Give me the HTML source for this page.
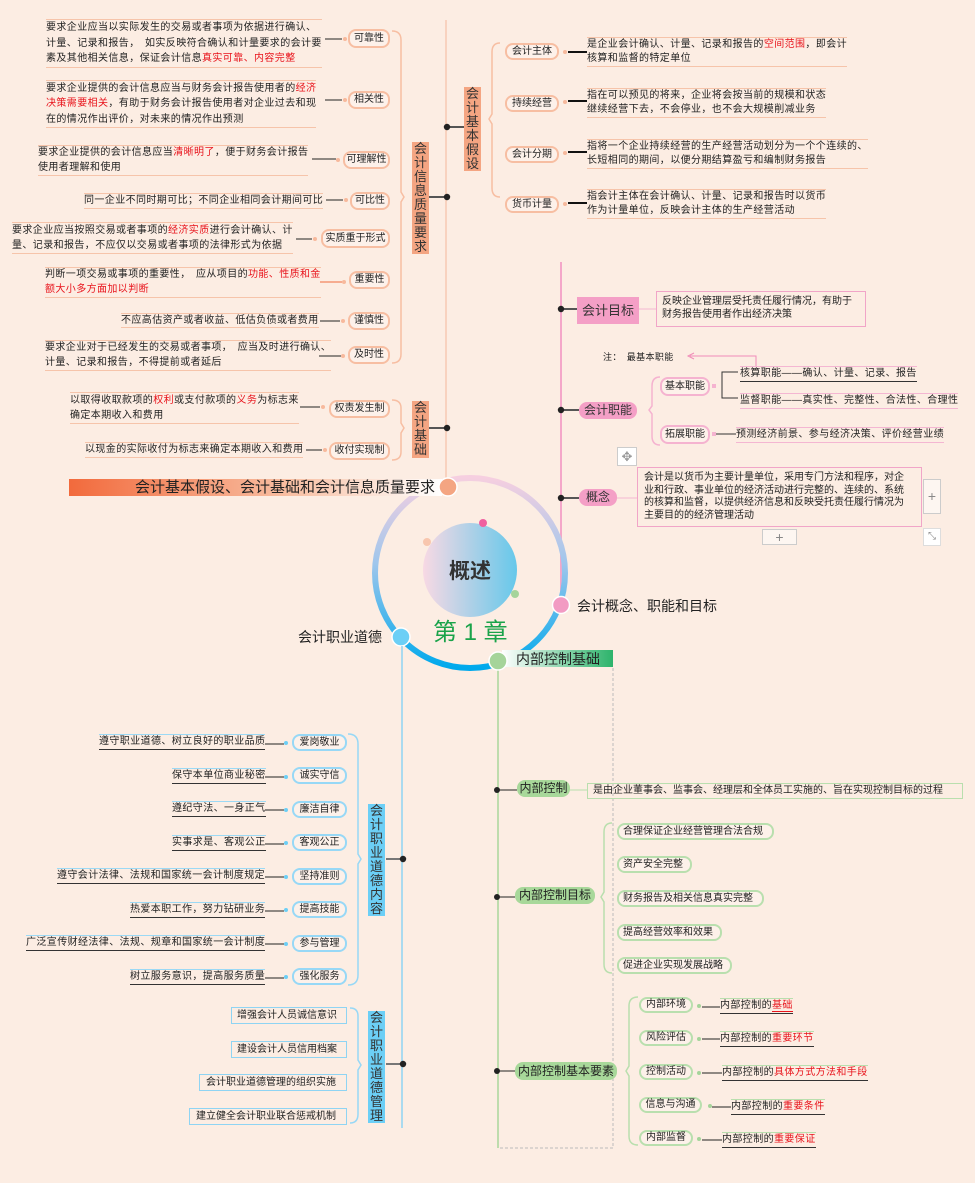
<!DOCTYPE html>
<html><head><meta charset="utf-8">
<style>
*{margin:0;padding:0;box-sizing:border-box}
body{width:975px;height:1183px;background:#fcede3;position:relative;overflow:hidden;font-family:"Liberation Sans","Noto Sans CJK SC",sans-serif;color:#222}
.t{position:absolute;font-size:10px;line-height:15px;white-space:nowrap;letter-spacing:0.4px}
.r{color:#e8131b}
.ob{border-top:1px solid #f6c4aa;border-bottom:1px solid #f6c4aa}
.pb{border-top:1px solid #f4b6d2;border-bottom:1px solid #f4b6d2}
.bb{border-top:1px solid #9bd9f5;border-bottom:1px solid #333}
.p{position:absolute;font-size:10px;text-align:center;white-space:nowrap;border-radius:8px;background:#fdf1ea}
.po{border:2px solid #f7bea2}
.pp{border:2px solid #f5b3d0}
.pbl{border:2px solid #97d8f6}
.pg{border:2px solid #b9dfae}
.v{position:absolute;width:17px;font-size:13px;line-height:14px;text-align:center;color:#333}
.box{position:absolute;font-size:10px;white-space:nowrap}
</style></head><body>
<svg width="975" height="1183" style="position:absolute;left:0;top:0">
<defs>
<linearGradient id="ring" x1="0" y1="0" x2="0" y2="1"><stop offset="0" stop-color="#f6cfe0"/><stop offset="0.45" stop-color="#9fc6ec"/><stop offset="1" stop-color="#00a9ec"/></linearGradient>
<linearGradient id="inner" x1="0" y1="0" x2="1" y2="0"><stop offset="0" stop-color="#f8d9e4"/><stop offset="1" stop-color="#66c8ea"/></linearGradient>
<linearGradient id="ob" x1="0" y1="0" x2="1" y2="0"><stop offset="0" stop-color="#f26a3c"/><stop offset="0.6" stop-color="#f8c0a4"/><stop offset="1" stop-color="#fff"/></linearGradient>
<linearGradient id="gb" x1="0" y1="0" x2="1" y2="0"><stop offset="0" stop-color="#fff"/><stop offset="1" stop-color="#2db36b"/></linearGradient>
</defs>
<g fill="none" stroke-width="1">
<!-- orange trunk -->
<line x1="446" y1="20" x2="446" y2="478" stroke="#f5b89b"/>
<g stroke="#555" stroke-width="2"><line x1="447" y1="127" x2="464" y2="127"/><line x1="428" y1="197" x2="447" y2="197"/><line x1="428" y1="428" x2="447" y2="428"/></g>
<g fill="#222" stroke="none"><circle cx="447" cy="127" r="3.2"/><circle cx="447" cy="197" r="3.2"/><circle cx="447" cy="428" r="3.2"/></g>
<path d="M392,31 Q401,31 401,40 V192 L404,197 L401,202 V354 Q401,363 392,363" stroke="#f7bea2" stroke-width="1.5"/>
<path d="M392,400 Q401,400 401,408 V423 L404,428 L401,433 V452 Q401,460 392,460" stroke="#f7bea2" stroke-width="1.5"/>
<path d="M500,43 Q492,43 492,52 V114 L489,119 L492,124 V188 Q492,197 500,197" stroke="#f7bea2" stroke-width="1.5"/>
<g stroke="#222"><line x1="325" y1="39" x2="342" y2="39"/><line x1="325" y1="100" x2="342" y2="100"/><line x1="312" y1="159" x2="336" y2="159"/><line x1="326" y1="200" x2="343" y2="200"/><line x1="296" y1="239" x2="312" y2="239"/><line x1="320" y1="321" x2="340" y2="321"/><line x1="319" y1="356" x2="341" y2="356"/><line x1="300" y1="407" x2="320" y2="407"/><line x1="306" y1="450" x2="322" y2="450"/></g>
<line x1="320" y1="282" x2="342" y2="282" stroke="#f06a3c"/>
<g fill="#f7b99c" stroke="none"><circle cx="345" cy="39" r="2"/><circle cx="345" cy="100" r="2"/><circle cx="338" cy="160" r="2"/><circle cx="346" cy="200" r="2"/><circle cx="315" cy="239" r="2"/><circle cx="344" cy="282" r="2"/><circle cx="343" cy="321" r="2"/><circle cx="343" cy="356" r="2"/><circle cx="323" cy="407" r="2"/><circle cx="325" cy="450" r="2"/>
<circle cx="565" cy="52" r="2"/><circle cx="565" cy="102" r="2"/><circle cx="565" cy="153" r="2"/><circle cx="565" cy="204" r="2"/></g>
<g stroke="#111" stroke-width="2"><line x1="568" y1="52" x2="587" y2="52"/><line x1="568" y1="101" x2="587" y2="101"/><line x1="568" y1="152" x2="587" y2="152"/><line x1="568" y1="203" x2="587" y2="203"/></g>
<!-- pink trunk -->
<line x1="561" y1="262" x2="561" y2="598" stroke="#f4a7c9" stroke-width="2"/>
<g stroke="#555" stroke-width="2"><line x1="561" y1="309" x2="577" y2="309"/><line x1="561" y1="410" x2="579" y2="410"/><line x1="561" y1="498" x2="579" y2="498"/></g>
<g fill="#222" stroke="none"><circle cx="561" cy="309" r="3.2"/><circle cx="561" cy="410" r="3.2"/><circle cx="561" cy="498" r="3.2"/></g>
<line x1="639" y1="309" x2="656" y2="309" stroke="#f4b6d2"/>
<line x1="617" y1="498" x2="637" y2="498" stroke="#f4b6d2"/>
<path d="M660,377 Q652,377 652,386 V406 L649,410 L652,414 V436 Q652,445 660,445" stroke="#f5b3d0" stroke-width="1.5"/>
<rect x="712" y="384" width="4" height="4" fill="#f5b3d0" stroke="none"/>
<path d="M738,372 H722 V398 H738" stroke="#333"/>
<rect x="712" y="432" width="4" height="4" fill="#f5b3d0" stroke="none"/>
<line x1="716" y1="434" x2="736" y2="434" stroke="#333"/>
<path d="M756,366 V356 H690" stroke="#f08cb8"/>
<path d="M694,353 L688,356 L694,359" stroke="#f08cb8"/>
<!-- ring -->
<circle cx="470" cy="573" r="95" stroke="url(#ring)" stroke-width="6"/>
<circle cx="470" cy="570" r="47" fill="url(#inner)" stroke="none"/>
<circle cx="483" cy="523" r="4" fill="#f0609f" stroke="none"/>
<circle cx="427" cy="542" r="4" fill="#f8c6ae" stroke="none"/>
<circle cx="515" cy="594" r="4" fill="#a5d49a" stroke="none"/>
<rect x="69" y="479" width="373" height="17" fill="url(#ob)" stroke="none"/>
<circle cx="448" cy="487" r="9" fill="#f4a582" stroke="#fff" stroke-width="1.5"/>
<circle cx="561" cy="605" r="8.5" fill="#f29bc3" stroke="#fff" stroke-width="1.5"/>
<circle cx="401" cy="637" r="9" fill="#6ccff6" stroke="#fff" stroke-width="1.5"/>
<rect x="502" y="650" width="111" height="17" fill="url(#gb)" stroke="none"/>
<!-- blue trunk -->
<line x1="402" y1="646" x2="402" y2="1128" stroke="#8fd4f3" stroke-width="1.5"/>
<g stroke="#777" stroke-width="2"><line x1="386" y1="859" x2="403" y2="859"/><line x1="386" y1="1064" x2="403" y2="1064"/></g>
<g fill="#222" stroke="none"><circle cx="403" cy="859" r="3.2"/><circle cx="403" cy="1064" r="3.2"/></g>
<path d="M348,734 Q358,734 358,744 V854 L361,859 L358,864 V975 Q358,985 348,985" stroke="#97d8f6" stroke-width="1.5"/>
<path d="M350,1008 Q358,1008 358,1016 V1060 L361,1065 L358,1070 V1114 Q358,1123 350,1123" stroke="#97d8f6" stroke-width="1.5"/>
<g stroke="#222"><line x1="265" y1="744" x2="284" y2="744"/><line x1="265" y1="777" x2="284" y2="777"/><line x1="265" y1="810" x2="284" y2="810"/><line x1="265" y1="844" x2="284" y2="844"/><line x1="265" y1="877" x2="284" y2="877"/><line x1="265" y1="911" x2="284" y2="911"/><line x1="265" y1="944" x2="284" y2="944"/><line x1="265" y1="978" x2="284" y2="978"/></g>
<g fill="#6ccff6" stroke="none"><circle cx="286" cy="743" r="2"/><circle cx="286" cy="777" r="2"/><circle cx="286" cy="810" r="2"/><circle cx="286" cy="843" r="2"/><circle cx="286" cy="877" r="2"/><circle cx="286" cy="910" r="2"/><circle cx="286" cy="944" r="2"/><circle cx="286" cy="977" r="2"/></g>
<!-- green trunk -->
<line x1="498" y1="668" x2="498" y2="1148" stroke="#a9d69b" stroke-width="1.5"/>
<path d="M613,668 V1148 H498" stroke="#bbb" stroke-dasharray="3,2"/>
<circle cx="498" cy="661" r="9" fill="#a5d49a" stroke="#fff" stroke-width="1.5"/>
<g stroke="#222"><line x1="497" y1="790" x2="517" y2="790"/><line x1="497" y1="897" x2="515" y2="897"/><line x1="497" y1="1071" x2="515" y2="1071"/></g>
<g fill="#222" stroke="none"><circle cx="497" cy="790" r="3"/><circle cx="497" cy="897" r="3"/><circle cx="497" cy="1071" r="3"/></g>
<line x1="570" y1="790" x2="587" y2="790" stroke="#b9dfae"/>
<path d="M612,823 Q604,823 604,832 V892 L601,897 L604,902 V964 Q604,973 612,973" stroke="#b9dfae" stroke-width="1.5"/>
<path d="M638,997 Q629,997 629,1006 V1066 L626,1071 L629,1076 V1136 Q629,1145 638,1145" stroke="#b9dfae" stroke-width="1.5"/>
<g stroke="#222"><line x1="702" y1="1007" x2="720" y2="1007"/><line x1="702" y1="1039" x2="720" y2="1039"/><line x1="702" y1="1073" x2="722" y2="1073"/><line x1="712" y1="1107" x2="731" y2="1107"/><line x1="702" y1="1140" x2="722" y2="1140"/></g>
<g fill="#a5d49a" stroke="none"><circle cx="699" cy="1006" r="2"/><circle cx="699" cy="1039" r="2"/><circle cx="699" cy="1073" r="2"/><circle cx="710" cy="1106" r="2"/><circle cx="699" cy="1139" r="2"/></g>
</g>
</svg>

<!-- top-left quality requirements -->
<div class="t ob" style="left:46px;top:19px;line-height:15.5px">要求企业应当以实际发生的交易或者事项为依据进行确认、<br>计量、记录和报告，　如实反映符合确认和计量要求的会计要<br>素及其他相关信息，保证会计信息<span class="r">真实可靠、内容完整</span></div>
<div class="p po" style="left:348px;top:29px;width:42px;height:19px;line-height:15px">可靠性</div>
<div class="t ob" style="left:46px;top:80px;line-height:15.3px">要求企业提供的会计信息应当与财务会计报告使用者的<span class="r">经济</span><br><span class="r">决策需要相关</span>，有助于财务会计报告使用者对企业过去和现<br>在的情况作出评价，对未来的情况作出预测</div>
<div class="p po" style="left:348px;top:91px;width:42px;height:18px;line-height:14px">相关性</div>
<div class="t ob" style="left:38px;top:145px;line-height:14.5px">要求企业提供的会计信息应当<span class="r">清晰明了</span>，便于财务会计报告<br>使用者理解和使用</div>
<div class="p po" style="left:343px;top:151px;width:47px;height:18px;line-height:14px">可理解性</div>
<div class="t ob" style="left:84px;top:193px;line-height:14px">同一企业不同时期可比；不同企业相同会计期间可比</div>
<div class="p po" style="left:350px;top:192px;width:40px;height:18px;line-height:14px">可比性</div>
<div class="t ob" style="left:12px;top:222px;line-height:15px">要求企业应当按照交易或者事项的<span class="r">经济实质</span>进行会计确认、计<br>量、记录和报告，不应仅以交易或者事项的法律形式为依据</div>
<div class="p po" style="left:321px;top:229px;width:69px;height:19px;line-height:15px">实质重于形式</div>
<div class="t ob" style="left:45px;top:267px;line-height:14.5px">判断一项交易或事项的重要性，　应从项目的<span class="r">功能、性质和金<br>额大小多方面加以判断</span></div>
<div class="p po" style="left:349px;top:271px;width:41px;height:18px;line-height:14px">重要性</div>
<div class="t ob" style="left:121px;top:313px;line-height:13px">不应高估资产或者收益、低估负债或者费用</div>
<div class="p po" style="left:348px;top:312px;width:42px;height:18px;line-height:14px">谨慎性</div>
<div class="t ob" style="left:45px;top:340px;line-height:14.5px">要求企业对于已经发生的交易或者事项，　应当及时进行确认、<br>计量、记录和报告，不得提前或者延后</div>
<div class="p po" style="left:348px;top:346px;width:42px;height:18px;line-height:14px">及时性</div>
<div class="t ob" style="left:70px;top:392px;line-height:15px">以取得收取款项的<span class="r">权利</span>或支付款项的<span class="r">义务</span>为标志来<br>确定本期收入和费用</div>
<div class="p po" style="left:329px;top:400px;width:61px;height:18px;line-height:14px">权责发生制</div>
<div class="t ob" style="left:85px;top:442px;line-height:14px">以现金的实际收付为标志来确定本期收入和费用</div>
<div class="p po" style="left:329px;top:442px;width:61px;height:18px;line-height:14px">收付实现制</div>
<div class="v" style="left:412px;top:142px;height:112px;background:#f4a582">会<br>计<br>信<br>息<br>质<br>量<br>要<br>求</div>
<div class="v" style="left:412px;top:401px;height:57px;background:#f4a582">会<br>计<br>基<br>础</div>
<div class="v" style="left:464px;top:87px;height:84px;background:#f4a582">会<br>计<br>基<br>本<br>假<br>设</div>

<!-- top-right assumptions -->
<div class="p po" style="left:505px;top:43px;width:54px;height:17px;line-height:13px">会计主体</div>
<div class="p po" style="left:505px;top:95px;width:54px;height:17px;line-height:13px">持续经营</div>
<div class="p po" style="left:505px;top:146px;width:54px;height:17px;line-height:13px">会计分期</div>
<div class="p po" style="left:505px;top:196px;width:54px;height:17px;line-height:13px">货币计量</div>
<div class="t ob" style="left:587px;top:37px;line-height:14px">是企业会计确认、计量、记录和报告的<span class="r">空间范围</span>，即会计<br>核算和监督的特定单位</div>
<div class="t ob" style="left:587px;top:88px;line-height:14px">指在可以预见的将来，企业将会按当前的规模和状态<br>继续经营下去，不会停业，也不会大规模削减业务</div>
<div class="t ob" style="left:587px;top:139px;line-height:14px">指将一个企业持续经营的生产经营活动划分为一个个连续的、<br>长短相同的期间，以便分期结算盈亏和编制财务报告</div>
<div class="t ob" style="left:587px;top:189px;line-height:14px">指会计主体在会计确认、计量、记录和报告时以货币<br>作为计量单位，反映会计主体的生产经营活动</div>

<!-- pink section -->
<div class="box" style="left:577px;top:297px;width:62px;height:27px;background:#f49fc6;font-size:13px;line-height:27px;text-align:center;color:#333">会计目标</div>
<div class="box" style="left:656px;top:291px;width:210px;height:36px;border:1px solid #f1a5c8;padding:3px 0 0 5px;line-height:13px">反映企业管理层受托责任履行情况，有助于<br>财务报告使用者作出经济决策</div>
<div class="t" style="left:603px;top:350px;font-size:9px">注：　最基本职能</div>
<div class="p" style="left:579px;top:402px;width:58px;height:17px;line-height:17px;background:#f49fc6;font-size:12px;color:#333">会计职能</div>
<div class="p pp" style="left:660px;top:377px;width:50px;height:19px;line-height:15px">基本职能</div>
<div class="p pp" style="left:660px;top:425px;width:50px;height:19px;line-height:15px">拓展职能</div>
<div class="t" style="left:740px;top:366px;line-height:14px;border-top:1px solid #f4b6d2;border-bottom:1px solid #333">核算职能——确认、计量、记录、报告</div>
<div class="t pb" style="left:740px;top:393px;line-height:14px">监督职能——真实性、完整性、合法性、合理性</div>
<div class="t pb" style="left:736px;top:427px;line-height:14px">预测经济前景、参与经济决策、评价经营业绩</div>
<div class="box" style="left:617px;top:447px;width:20px;height:19px;border:1px solid #ccc;background:#fff;text-align:center;font-size:13px;line-height:17px;color:#999">✥</div>
<div class="p" style="left:579px;top:489px;width:38px;height:17px;line-height:17px;background:#f49fc6;font-size:12px;color:#333">概念</div>
<div class="box" style="left:637px;top:467px;width:285px;height:60px;border:1px solid #f1a5c8;padding:4px 0 0 6px;line-height:12.5px">会计是以货币为主要计量单位，采用专门方法和程序，对企<br>业和行政、事业单位的经济活动进行完整的、连续的、系统<br>的核算和监督，以提供经济信息和反映受托责任履行情况为<br>主要目的的经济管理活动</div>
<div class="box" style="left:923px;top:479px;width:18px;height:35px;border:1px solid #ccc;background:#fdf6f1;text-align:center;line-height:33px;font-size:14px;color:#888">+</div>
<div class="box" style="left:762px;top:529px;width:35px;height:16px;border:1px solid #ccc;background:#fdf6f1;text-align:center;line-height:14px;font-size:14px;color:#888">+</div>
<div class="box" style="left:923px;top:528px;width:18px;height:18px;border:1px solid #ddd;background:#fff;text-align:center;line-height:16px;font-size:10px;color:#888">⤡</div>

<!-- center labels -->
<div class="t" style="left:135px;top:479px;font-size:15px;line-height:17px;letter-spacing:0">会计基本假设、会计基础和会计信息质量要求</div>
<div class="t" style="left:449px;top:559px;font-size:21px;line-height:26px;font-weight:bold;color:#333;letter-spacing:0">概述</div>
<div class="t" style="left:577px;top:597px;font-size:14px;line-height:18px;letter-spacing:0">会计概念、职能和目标</div>
<div class="t" style="left:298px;top:628px;font-size:14px;line-height:18px;letter-spacing:0">会计职业道德</div>
<div class="t" style="left:433px;top:618px;font-size:24px;line-height:30px;color:#1aa34a;letter-spacing:0">第 1 章</div>
<div class="t" style="left:516px;top:651px;font-size:14px;line-height:16px;letter-spacing:0">内部控制基础</div>

<!-- ethics -->
<div class="v" style="left:368px;top:804px;height:112px;background:#6ccff6">会<br>计<br>职<br>业<br>道<br>德<br>内<br>容</div>
<div class="v" style="left:368px;top:1011px;height:112px;background:#6ccff6">会<br>计<br>职<br>业<br>道<br>德<br>管<br>理</div>
<div class="p pbl" style="left:292px;top:734px;width:55px;height:17px;line-height:13px">爱岗敬业</div>
<div class="p pbl" style="left:292px;top:767px;width:55px;height:17px;line-height:13px">诚实守信</div>
<div class="p pbl" style="left:292px;top:801px;width:55px;height:17px;line-height:13px">廉洁自律</div>
<div class="p pbl" style="left:292px;top:834px;width:55px;height:17px;line-height:13px">客观公正</div>
<div class="p pbl" style="left:292px;top:868px;width:55px;height:17px;line-height:13px">坚持准则</div>
<div class="p pbl" style="left:292px;top:901px;width:55px;height:17px;line-height:13px">提高技能</div>
<div class="p pbl" style="left:292px;top:935px;width:55px;height:17px;line-height:13px">参与管理</div>
<div class="p pbl" style="left:292px;top:968px;width:55px;height:17px;line-height:13px">强化服务</div>
<div class="t bb" style="left:99px;top:734px;line-height:14px">遵守职业道德、树立良好的职业品质</div>
<div class="t bb" style="left:172px;top:768px;line-height:14px">保守本单位商业秘密</div>
<div class="t bb" style="left:172px;top:801px;line-height:14px">遵纪守法、一身正气</div>
<div class="t bb" style="left:172px;top:835px;line-height:14px">实事求是、客观公正</div>
<div class="t bb" style="left:57px;top:868px;line-height:14px">遵守会计法律、法规和国家统一会计制度规定</div>
<div class="t bb" style="left:130px;top:902px;line-height:14px">热爱本职工作，努力钻研业务</div>
<div class="t bb" style="left:26px;top:935px;line-height:14px">广泛宣传财经法律、法规、规章和国家统一会计制度</div>
<div class="t bb" style="left:130px;top:969px;line-height:14px">树立服务意识，提高服务质量</div>
<div class="box" style="left:231px;top:1007px;width:116px;height:17px;border:1px solid #8fd4f3;line-height:15px;padding-left:5px">增强会计人员诚信意识</div>
<div class="box" style="left:231px;top:1041px;width:116px;height:17px;border:1px solid #8fd4f3;line-height:15px;padding-left:5px">建设会计人员信用档案</div>
<div class="box" style="left:199px;top:1074px;width:148px;height:17px;border:1px solid #8fd4f3;line-height:15px;padding-left:6px">会计职业道德管理的组织实施</div>
<div class="box" style="left:189px;top:1108px;width:158px;height:17px;border:1px solid #8fd4f3;line-height:15px;padding-left:6px">建立健全会计职业联合惩戒机制</div>

<!-- internal control -->
<div class="p" style="left:517px;top:780px;width:53px;height:17px;line-height:17px;background:#a8d89a;font-size:12px">内部控制</div>
<div class="box" style="left:587px;top:783px;width:376px;height:16px;border:1px solid #b9dfae;line-height:14px;padding-left:5px">是由企业董事会、监事会、经理层和全体员工实施的、旨在实现控制目标的过程</div>
<div class="p" style="left:515px;top:887px;width:80px;height:17px;line-height:17px;background:#a8d89a;font-size:12px">内部控制目标</div>
<div class="p pg" style="left:617px;top:823px;width:157px;height:17px;line-height:13px;text-align:left;padding-left:4px">合理保证企业经营管理合法合规</div>
<div class="p pg" style="left:617px;top:856px;width:75px;height:17px;line-height:13px;text-align:left;padding-left:4px">资产安全完整</div>
<div class="p pg" style="left:617px;top:890px;width:147px;height:17px;line-height:13px;text-align:left;padding-left:4px">财务报告及相关信息真实完整</div>
<div class="p pg" style="left:617px;top:924px;width:105px;height:17px;line-height:13px;text-align:left;padding-left:4px">提高经营效率和效果</div>
<div class="p pg" style="left:617px;top:957px;width:115px;height:17px;line-height:13px;text-align:left;padding-left:4px">促进企业实现发展战略</div>
<div class="p" style="left:515px;top:1062px;width:102px;height:18px;line-height:18px;background:#a8d89a;font-size:12px">内部控制基本要素</div>
<div class="p pg" style="left:639px;top:997px;width:54px;height:16px;line-height:12px">内部环境</div>
<div class="p pg" style="left:639px;top:1030px;width:54px;height:16px;line-height:12px">风险评估</div>
<div class="p pg" style="left:639px;top:1064px;width:54px;height:16px;line-height:12px">控制活动</div>
<div class="p pg" style="left:639px;top:1097px;width:63px;height:16px;line-height:12px">信息与沟通</div>
<div class="p pg" style="left:639px;top:1130px;width:54px;height:16px;line-height:12px">内部监督</div>
<div class="t" style="left:720px;top:998px;line-height:14px;border-top:1px solid #b9dfae;border-bottom:1px solid #333">内部控制的<span class="r" style="border-bottom:1px solid #e8131b">基础</span></div>
<div class="t" style="left:720px;top:1031px;line-height:14px;border-top:1px solid #b9dfae;border-bottom:1px solid #333">内部控制的<span class="r">重要环节</span></div>
<div class="t" style="left:722px;top:1065px;line-height:14px;border-top:1px solid #b9dfae;border-bottom:1px solid #333">内部控制的<span class="r">具体方式方法和手段</span></div>
<div class="t" style="left:731px;top:1099px;line-height:14px;border-top:1px solid #b9dfae;border-bottom:1px solid #333">内部控制的<span class="r">重要条件</span></div>
<div class="t" style="left:722px;top:1132px;line-height:14px;border-top:1px solid #b9dfae;border-bottom:1px solid #333">内部控制的<span class="r">重要保证</span></div>
</body></html>
